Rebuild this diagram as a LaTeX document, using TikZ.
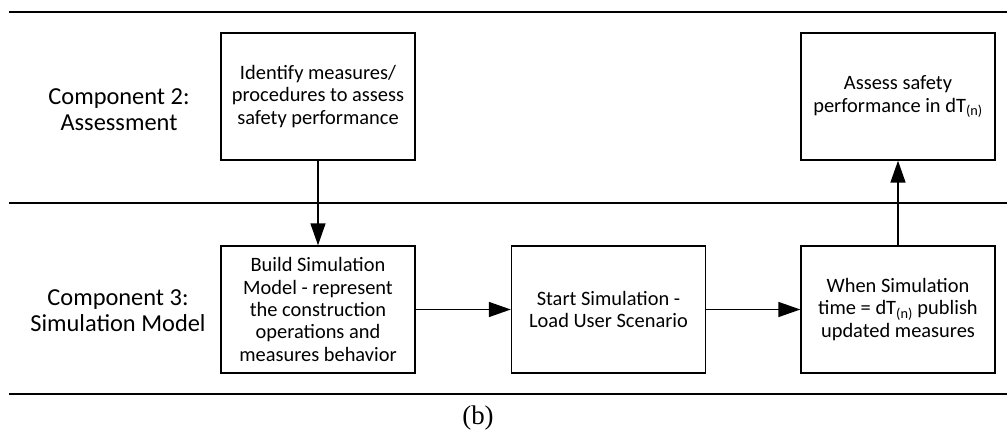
\documentclass[tikz,border=0pt]{standalone}
\usepackage{fontspec}
\setmainfont{Carlito}
\newfontfamily\capfont{Liberation Serif}
\usetikzlibrary{arrows.meta}
\tikzset{
  stepbox/.style={draw, line width=1.4bp, minimum width=194bp, minimum height=127bp, align=center, font=\fontsize{20.5}{22.5}\selectfont, inner sep=0pt},
  lanelabel/.style={align=center, font=\fontsize{24.5}{26}\selectfont},
  lane/.style={line width=1.6bp},
  flow/.style={line width=1.6bp, -{Triangle[length=22bp,width=15bp]}}
}
\begin{document}
\begin{tikzpicture}[x=1bp,y=-1bp]
\useasboundingbox (0,0) rectangle (1007,434);
\draw[lane] (9,12) -- (1007,12);
\draw[lane] (9,203) -- (1007,203);
\draw[lane] (9,394) -- (1007,394);
\node[lanelabel] (c2) at (119,110) {Component 2:\\Assessment};
\node[lanelabel] (c3) at (118,311) {Component 3:\\Simulation Model};
\node[stepbox] (idm) at (318,96.5) {Identify measures/\\procedures to assess\\safety performance};
\node[stepbox] (ass) at (898,96.5) {Assess safety\\performance in dT\textsubscript{(n)}};
\node[stepbox] (bsm) at (318,309.5) {Build Simulation\\Model - represent\\the construction\\operations and\\measures behavior};
\node[stepbox] (sts) at (608.5,309.5) {Start Simulation -\\Load User Scenario};
\node[stepbox] (wst) at (898,309.5) {When Simulation\\time = dT\textsubscript{(n)} publish\\updated measures};
\draw[flow] (idm) -- (bsm);
\draw[flow] (bsm) -- (sts);
\draw[flow] (sts) -- (wst);
\draw[flow] (wst) -- (ass);
\node[font=\capfont\fontsize{27}{30}\selectfont] (cap) at (478,418) {(b)};
\end{tikzpicture}
\end{document}
